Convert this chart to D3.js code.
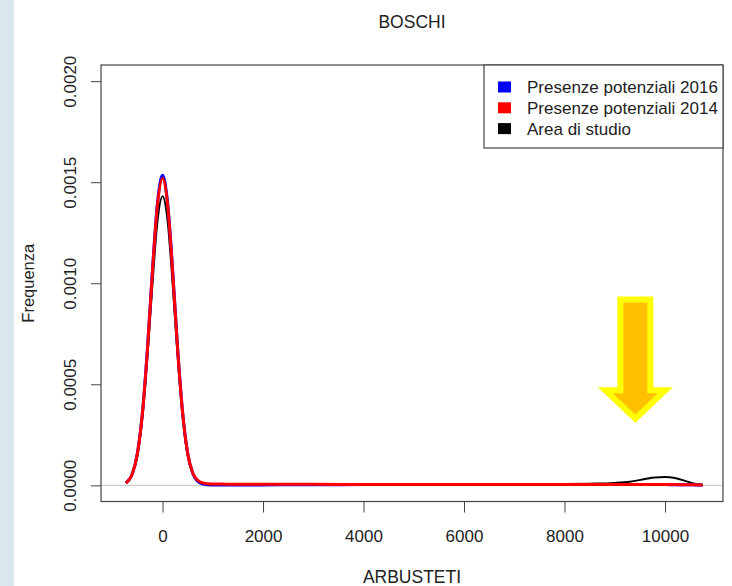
<!DOCTYPE html>
<html>
<head>
<meta charset="utf-8">
<script src="https://cdn.jsdelivr.net/npm/d3@7"></script>
<style>
  html, body { margin: 0; padding: 0; background: #fff; }
  svg { display: block; font-family: "Liberation Sans", Arial, sans-serif; }
</style>
</head>
<body>
<svg width="732" height="586"></svg>
<script>
// ---- DATA ----
const xValues = [-730, -600, -500, -400, -300, -200, -100, 0, 100, 200, 300, 400, 500, 600, 700, 800, 900, 1000,
  1200, 1500, 2000, 2500, 3000, 4000, 5000, 6000, 7000, 8000, 8500, 9000, 9300, 9600, 9800, 10000, 10200, 10400, 10600, 10750];

const area = [0.000012, 0.000055, 0.00015, 0.00034, 0.00064, 0.001, 0.00131, 0.00143, 0.00131, 0.001, 0.00064, 0.00034,
  0.00015, 0.000058, 0.000022, 0.00001, 0.000007, 0.000006, 0.000006, 0.000005, 0.000005, 0.000005, 0.000005, 0.000005,
  0.000005, 0.000005, 0.000005, 0.000006, 0.000008, 0.000012, 0.000018, 0.000031, 0.000039, 0.000041, 0.000036, 0.000022,
  0.000008, 0.000003];

const pres2016 = [0.000012, 0.000058, 0.00016, 0.00036, 0.00068, 0.00107, 0.0014, 0.001535, 0.0014, 0.00107, 0.00068,
  0.00036, 0.00016, 0.00006, 0.00002, 0.000006, 0.000003, 0.000002, 0.000002, 0.000002, 0.000002, 0.000003, 0.000003,
  0.000004, 0.000004, 0.000004, 0.000004, 0.000004, 0.000004, 0.000004, 0.000004, 0.000004, 0.000004, 0.000004, 0.000003,
  0.000003, 0.000002, 0.000001];

const pres2014 = [0.000012, 0.000058, 0.000158, 0.000357, 0.000673, 0.00106, 0.00139, 0.00152, 0.00139, 0.00106, 0.000673,
  0.000357, 0.000158, 0.000062, 0.000025, 0.000012, 0.000008, 0.000007, 0.000006, 0.000005, 0.000005, 0.000005, 0.000005,
  0.000004, 0.000004, 0.000004, 0.000004, 0.000004, 0.000004, 0.000004, 0.000004, 0.000004, 0.000004, 0.000004, 0.000004,
  0.000003, 0.000003, 0.000002];

const xTicks = [0, 2000, 4000, 6000, 8000, 10000];
const yTicks = [0, 0.0005, 0.001, 0.0015, 0.002];

const legendLabels = ["Presenze potenziali 2016", "Presenze potenziali 2014", "Area di studio"];
const legendColors = ["#0000ff", "#ff0000", "#000000"];

// arrow annotation, in data units
const arrowX = 9410;
const arrowTop = 0.00092;
const arrowBase = 0.00047;
const arrowTip = 0.00033;

const svg = d3.select("svg");

// left page strip
svg.append("rect").attr("x", 0).attr("y", 0).attr("width", 14).attr("height", 586).attr("fill", "#dae8ed");

const box = { left: 101, right: 723, top: 65, bottom: 501.5 };

// ---- SCALES ----
const x = d3.scaleLinear().domain([-1225, 11155]).range([box.left, box.right]);
const y = d3.scaleLinear().domain([-0.00008, 0.00208]).range([box.bottom, box.top]);

// ---- AXES ----
const xAxis = d3.axisBottom(x).tickValues(xTicks).tickSize(11).tickPadding(17).tickFormat(d3.format("d"));
const yAxis = d3.axisLeft(y).tickValues(yTicks).tickSize(10).tickFormat(d3.format(".4f"));

const xAxisG = svg.append("g").attr("transform", `translate(0,${box.bottom})`).call(xAxis);
const yAxisG = svg.append("g").attr("transform", `translate(${box.left},0)`).call(yAxis);

[xAxisG, yAxisG].forEach(g => {
  g.select(".domain").remove();
  g.selectAll(".tick line").attr("stroke", "#444");
  g.selectAll(".tick text").attr("fill", "#222").attr("font-size", 17).attr("font-family", null);
});
yAxisG.selectAll(".tick text")
  .attr("x", null).attr("dy", null)
  .attr("text-anchor", "middle")
  .attr("transform", "translate(-29,0) rotate(-90)")
  .attr("dominant-baseline", "middle");

// zero line
svg.append("line")
  .attr("x1", box.left).attr("x2", box.right)
  .attr("y1", y(0)).attr("y2", y(0))
  .attr("stroke", "#c4c4c4").attr("stroke-width", 1);

// ---- LINES ----
const line = d3.line()
  .x((d, i) => x(xValues[i]))
  .y(d => y(d))
  .curve(d3.curveMonotoneX);

svg.append("path").datum(area).attr("d", line)
  .attr("fill", "none").attr("stroke", "#000").attr("stroke-width", 2);
svg.append("path").datum(pres2016).attr("d", line)
  .attr("fill", "none").attr("stroke", "#0000ff").attr("stroke-width", 3);
svg.append("path").datum(pres2014).attr("d", line)
  .attr("fill", "none").attr("stroke", "#ff0000").attr("stroke-width", 3);

// plot box
svg.append("rect")
  .attr("x", box.left).attr("y", box.top)
  .attr("width", box.right - box.left).attr("height", box.bottom - box.top)
  .attr("fill", "none").attr("stroke", "#444").attr("stroke-width", 1.2);

// ---- LEGEND ----
const legend = svg.append("g").attr("transform", `translate(484,${box.top})`);
legend.append("rect")
  .attr("width", box.right - 484).attr("height", 83)
  .attr("fill", "#fff").attr("stroke", "#444").attr("stroke-width", 1.2);
legendLabels.forEach((lab, i) => {
  const cy = 22 + i * 20.8;
  legend.append("rect").attr("x", 14).attr("y", cy - 5.5).attr("width", 13).attr("height", 11)
    .attr("fill", legendColors[i]);
  legend.append("text").attr("x", 43).attr("y", cy).attr("dy", "0.35em")
    .attr("font-size", 17).attr("fill", "#222").text(lab);
});

// ---- TITLES ----
svg.append("text").attr("x", (box.left + box.right) / 2).attr("y", 22).attr("dy", "0.35em")
  .attr("text-anchor", "middle").attr("font-size", 17.5).attr("fill", "#222").text("BOSCHI");
svg.append("text").attr("x", (box.left + box.right) / 2).attr("y", 577).attr("dy", "0.35em")
  .attr("text-anchor", "middle").attr("font-size", 17.5).attr("fill", "#222").text("ARBUSTETI");
svg.append("text").attr("transform", `translate(28,${(box.top + box.bottom) / 2}) rotate(-90)`)
  .attr("dy", "0.35em").attr("text-anchor", "middle").attr("font-size", 16.5).attr("fill", "#222").text("Frequenza");

// ---- ARROW ----
const ax = x(arrowX);
const shaft = 15, head = 30;
const arrowPath = d3.path();
arrowPath.moveTo(ax - shaft, y(arrowTop));
arrowPath.lineTo(ax + shaft, y(arrowTop));
arrowPath.lineTo(ax + shaft, y(arrowBase));
arrowPath.lineTo(ax + head, y(arrowBase));
arrowPath.lineTo(ax, y(arrowTip));
arrowPath.lineTo(ax - head, y(arrowBase));
arrowPath.lineTo(ax - shaft, y(arrowBase));
arrowPath.closePath();
svg.append("path").attr("d", arrowPath.toString())
  .attr("fill", "#ffc000").attr("stroke", "#ffff00").attr("stroke-width", 6)
  .attr("stroke-linejoin", "miter");
</script>
</body>
</html>
